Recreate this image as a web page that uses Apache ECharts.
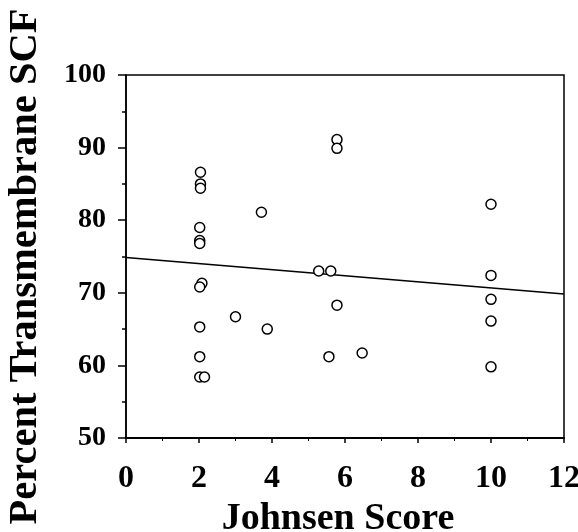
<!DOCTYPE html>
<html><head><meta charset="utf-8">
<script src="https://cdn.jsdelivr.net/npm/echarts@6/dist/echarts.min.js"></script>
<style>html,body{margin:0;padding:0;background:#fff}#c{width:578px;height:532px}</style>
</head><body><div id="c"></div>
<script>
const johnsenScore = [2.04, 2.04, 2.04, 2.02, 2.02, 2.02, 2.08, 2.02, 2.02, 2.02, 2.02, 2.15,
  3.71, 3.0, 3.87, 5.78, 5.78, 5.28, 5.61, 5.78, 5.56, 6.47, 10.0, 10.0, 10.0, 10.0, 10.0];
const percentSCF = [86.6, 85.0, 84.4, 79.0, 77.2, 76.8, 71.3, 70.8, 65.3, 61.2, 58.4, 58.4,
  81.1, 66.7, 65.0, 91.1, 89.9, 73.0, 73.0, 68.3, 61.2, 61.7, 82.2, 72.4, 69.1, 66.1, 59.8];
const fitX = [0, 12];
const fitY = [74.85, 69.85];
const xTicks = [0, 2, 4, 6, 8, 10, 12];
const yTicks = [50, 60, 70, 80, 90, 100];

const font = "'Liberation Serif', 'Times New Roman', serif";
const chart = echarts.init(document.getElementById('c'), null, {renderer: 'canvas'});
chart.setOption({
  animation: false,
  backgroundColor: '#fff',
  grid: {left: 126, right: 14, top: 75, bottom: 94, containLabel: false, outerBoundsMode: 'none',
    show: true, borderColor: '#000', borderWidth: 1.5, backgroundColor: 'transparent'},
  xAxis: {
    type: 'value', min: xTicks[0], max: xTicks[xTicks.length - 1], interval: 2,
    name: 'Johnsen Score', nameLocation: 'middle', nameGap: 60,
    nameTextStyle: {fontFamily: font, fontWeight: 'bold', fontSize: 38, color: '#000', padding: [0, 14, 0, 0]},
    axisLine: {show: true, lineStyle: {color: '#000', width: 2}},
    axisTick: {show: true, length: 5, lineStyle: {color: '#000', width: 1.5}},
    minorTick: {show: true, splitNumber: 2, length: 3, lineStyle: {color: '#000', width: 1}},
    splitLine: {show: false},
    axisLabel: {fontFamily: font, fontWeight: 'bold', fontSize: 32, color: '#000', margin: 25}
  },
  yAxis: {
    type: 'value', min: yTicks[0], max: yTicks[yTicks.length - 1], interval: 10,
    name: 'Percent Transmembrane SCF', nameLocation: 'middle', nameGap: 80,
    nameTextStyle: {fontFamily: font, fontWeight: 'bold', fontSize: 40.5, color: '#000', padding: [0, 20, 0, 0]},
    axisLine: {show: true, lineStyle: {color: '#000', width: 1.5}},
    axisTick: {show: true, length: 8, lineStyle: {color: '#000', width: 1.5}},
    minorTick: {show: true, splitNumber: 2, length: 4, lineStyle: {color: '#000', width: 1.5}},
    splitLine: {show: false},
    axisLabel: {fontFamily: font, fontWeight: 'bold', fontSize: 28, color: '#000', margin: 20}
  },
  series: [
    {
      type: 'line', data: fitX.map((x, i) => [x, fitY[i]]), symbol: 'none',
      lineStyle: {color: '#000', width: 1.5}, z: 2
    },
    {
      type: 'scatter', data: johnsenScore.map((x, i) => [x, percentSCF[i]]),
      symbol: 'circle', symbolSize: 10,
      itemStyle: {color: '#fff', borderColor: '#000', borderWidth: 1.5, opacity: 1}, z: 3
    }
  ]
});
</script></body></html>
